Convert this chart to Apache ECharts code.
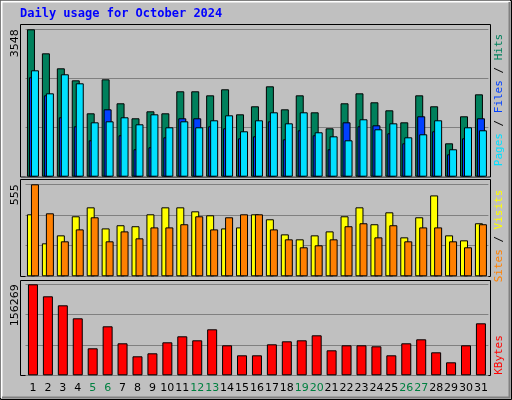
<!DOCTYPE html>
<html><head><meta charset="utf-8">
<script src="https://cdn.jsdelivr.net/npm/echarts@6/dist/echarts.min.js"></script>
<style>html,body{margin:0;padding:0;background:#c0c0c0}#c{width:512px;height:400px}</style>
</head><body><div id="c"></div>
<script>
var days = ['1','2','3','4','5','6','7','8','9','10','11','12','13','14','15','16','17','18','19','20','21','22','23','24','25','26','27','28','29','30','31'];
var weekendDays = ['5','6','12','13','19','20','26','27'];
var hits = [3548,2970,2609,2320,1526,2344,1767,1406,1574,1526,2056,2056,1959,2104,1502,1695,2176,1622,1959,1550,1165,1767,2007,1791,1598,1309,1959,1695,804,1454,1983];
var files = [2393,1959,1430,1213,876,1622,997,660,708,948,1406,1406,1213,1165,924,972,1333,900,1117,997,660,1309,1213,1237,1045,804,1454,1093,539,924,1406];
var pages = [2561,2007,2465,2248,1309,1333,1430,1261,1502,1189,1333,1189,1358,1478,1093,1358,1550,1285,1550,1069,972,876,1382,1141,1285,948,1021,1358,660,1189,1117];
var visits = [374,199,247,362,416,289,308,302,374,416,416,392,368,289,295,374,344,253,223,247,271,362,416,314,386,235,356,488,247,217,320];
var sites = [555,380,211,283,356,211,271,229,295,295,314,362,283,356,374,374,283,223,175,187,223,302,320,235,308,211,295,295,211,175,314];
var kbytes = [156269,135650,120200,97870,46360,84130,54940,32620,37770,56660,66960,60100,78980,51510,34340,34340,53230,58380,60100,68680,42930,51510,51510,49790,34340,54940,61810,39490,22320,51510,89280];
var maxHits = 3548, maxSites = 555, maxKB = 156269;

var chart = echarts.init(document.getElementById('c'));
var L = 25.5, R = 23.6;
function yAx(i, mx){
  return {gridIndex:i, type:'value', min:0, max:mx, interval:mx/3,
    axisLine:{show:false}, axisTick:{show:false},
    splitLine:{show:true, lineStyle:{color:'#808080', width:1}},
    axisLabel:{rotate:90, align:'right', verticalAlign:'middle', margin:10, color:'#000',
      fontFamily:'DejaVu Sans', fontSize:11,
      formatter:function(v){return Math.abs(v-mx)<1e-6 ? String(mx) : '';}}};
}
function xAx(i, show){
  return {gridIndex:i, type:'category', data:days, axisLine:{show:false}, axisTick:{show:false},
    axisLabel:{show:show, interval:0, margin:7, fontFamily:'DejaVu Sans', fontSize:11,
      color:function(v){return weekendDays.indexOf(v)>=0 ? '#008040' : '#000';}}};
}
var bs = {borderColor:'#000', borderWidth:1};
chart.setOption({
  backgroundColor:'#c0c0c0',
  animation:false,
  grid:[
    {left:L, right:R, top:29.3, bottom:223.3},
    {left:L, right:R, top:184.3, bottom:123.7},
    {left:L, right:R, top:284.3, bottom:24.7}
  ],
  xAxis:[xAx(0,false), xAx(1,false), xAx(2,true)],
  yAxis:[yAx(0,maxHits), yAx(1,maxSites), yAx(2,maxKB)],
  graphic:[
    {type:'rect', shape:{x:0.5,y:0.5,width:511,height:399}, style:{fill:null, stroke:'#000'}},
    {type:'polyline', shape:{points:[[1.5,398],[1.5,1.5],[510,1.5]]}, style:{fill:null, stroke:'#fff', lineWidth:2}},
    {type:'polyline', shape:{points:[[2,397.5],[509.5,397.5],[509.5,2]]}, style:{fill:null, stroke:'#808080', lineWidth:2}},
    {type:'rect', shape:{x:20.5,y:24.5,width:470,height:152.5}, style:{fill:null, stroke:'#000'}},
    {type:'rect', shape:{x:20.5,y:179.5,width:470,height:97}, style:{fill:null, stroke:'#000'}},
    {type:'rect', shape:{x:20.5,y:280.5,width:470,height:95}, style:{fill:null, stroke:'#000'}},
    {type:'text', left:20, top:8, style:{text:'Daily usage for October 2024', fill:'#0000ff',
      font:'bold 12px "DejaVu Sans Mono"'}},
    {type:'text', x:494, y:100, rotation:Math.PI/2, style:{
      text:'{p|Pages}{s| / }{f|Files}{s| / }{h|Hits}', align:'center', verticalAlign:'top',
      font:'11px "DejaVu Sans Mono"',
      rich:{p:{fill:'#00e0ff',font:'11px "DejaVu Sans Mono"'},s:{fill:'#000',font:'11px "DejaVu Sans Mono"'},
            f:{fill:'#0040ff',font:'11px "DejaVu Sans Mono"'},h:{fill:'#00805c',font:'11px "DejaVu Sans Mono"'}}}},
    {type:'text', x:494, y:236, rotation:Math.PI/2, style:{
      text:'{o|Sites}{s| / }{y|Visits}', align:'center', verticalAlign:'top',
      font:'11px "DejaVu Sans Mono"',
      rich:{o:{fill:'#ff8000',font:'11px "DejaVu Sans Mono"'},s:{fill:'#000',font:'11px "DejaVu Sans Mono"'},
            y:{fill:'#ffff00',font:'11px "DejaVu Sans Mono"'}}}},
    {type:'text', x:494, y:355, rotation:Math.PI/2, style:{text:'KBytes', align:'center', verticalAlign:'top',
      fill:'#ff0000', font:'11px "DejaVu Sans Mono"'}}
  ],
  series:[
    {type:'bar', xAxisIndex:0, yAxisIndex:0, data:hits, barWidth:8, barGap:'-75%', itemStyle:Object.assign({color:'#00805c'},bs)},
    {type:'bar', xAxisIndex:0, yAxisIndex:0, data:files, barWidth:8, barGap:'-75%', itemStyle:Object.assign({color:'#0040ff'},bs)},
    {type:'bar', xAxisIndex:0, yAxisIndex:0, data:pages, barWidth:8, barGap:'-75%', itemStyle:Object.assign({color:'#00e0ff'},bs)},
    {type:'bar', xAxisIndex:1, yAxisIndex:1, data:visits, barWidth:8, barGap:'-50%', itemStyle:Object.assign({color:'#ffff00'},bs)},
    {type:'bar', xAxisIndex:1, yAxisIndex:1, data:sites, barWidth:8, barGap:'-50%', itemStyle:Object.assign({color:'#ff8000'},bs)},
    {type:'bar', xAxisIndex:2, yAxisIndex:2, data:kbytes, barWidth:10, itemStyle:Object.assign({color:'#ff0000'},bs)}
  ]
});
</script></body></html>
